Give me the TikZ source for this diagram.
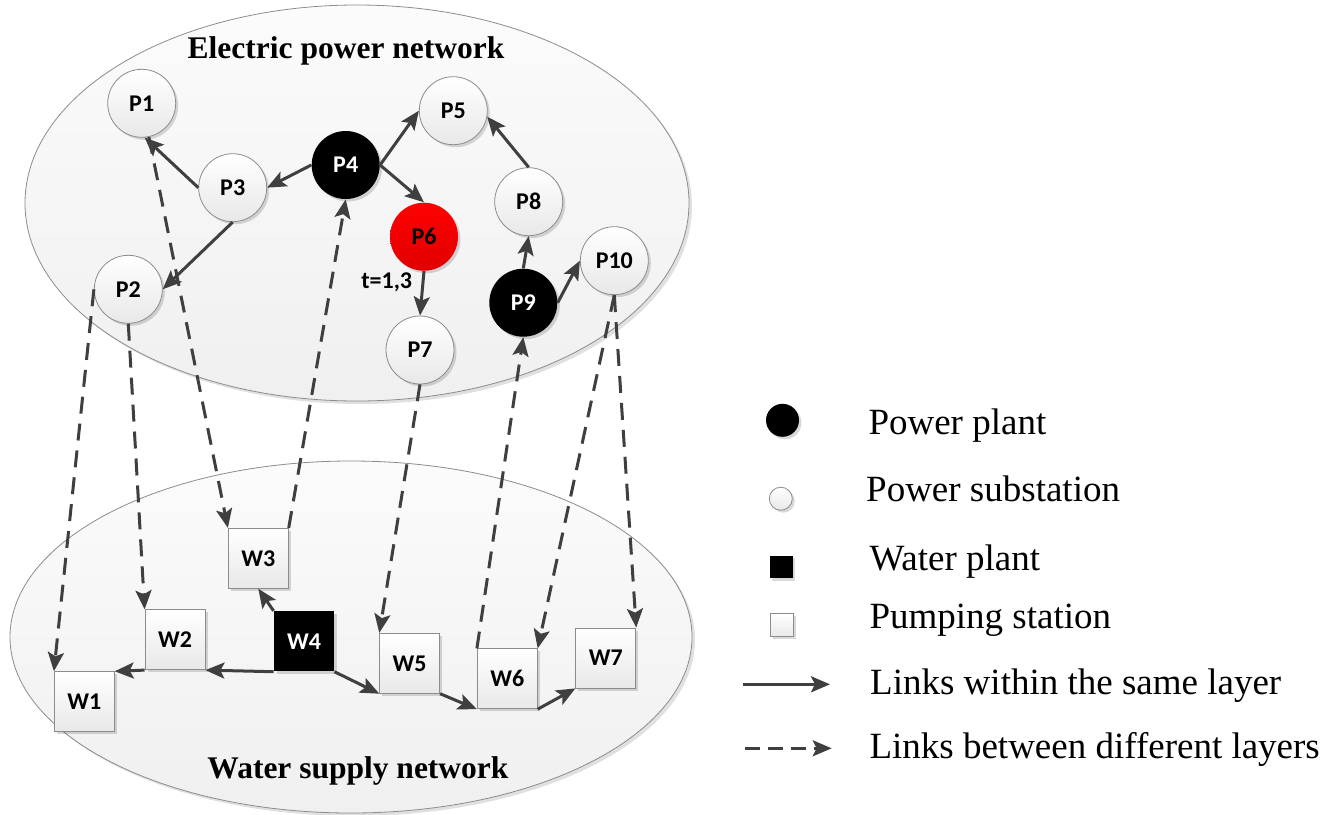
\documentclass[tikz,border=0pt]{standalone}
\usepackage{fontspec}
\setmainfont{Liberation Serif}
\newfontfamily\lblfont{Carlito}
\usetikzlibrary{arrows.meta,shadows}

\definecolor{linkgray}{HTML}{3F3F3F}
\definecolor{rimgray}{HTML}{8C8C8C}

\tikzset{
  shade/.style={drop shadow={shadow xshift=2.5pt,shadow yshift=-2.5pt,fill=black,opacity=0.15}},
  layer/.style={draw=rimgray, line width=0.8pt, top color=white!98.5!black, bottom color=white!94!black,
                drop shadow={shadow xshift=3pt,shadow yshift=-3pt,fill=black,opacity=0.12}},
  nodebase/.style={inner sep=0pt, line width=0.8pt, font=\lblfont\bfseries\fontsize{24}{26}\selectfont, shade},
  substation/.style={nodebase, circle, minimum size=68pt, draw=rimgray, top color=white, bottom color=white!91!black},
  powerplant/.style={nodebase, circle, minimum size=68pt, fill=black, text=white},
  failed/.style={nodebase, circle, minimum size=68pt, top color=red, bottom color=red!88!black},
  pumpbox/.style={nodebase, rectangle, minimum size=60pt, draw=rimgray, top color=white, bottom color=white!91!black},
  waterbox/.style={nodebase, rectangle, minimum size=60pt, fill=black, text=white},
  link/.style={draw=linkgray, line width=3pt, -{Stealth[length=19pt,width=16pt,inset=4pt]}},
  crosslink/.style={link, dash pattern=on 17pt off 10pt},
  title/.style={font=\bfseries\fontsize{31.5}{34}\selectfont, anchor=base},
  legtext/.style={font=\fontsize{37}{40}\selectfont, anchor=base west, inner sep=0pt}
}

\begin{document}
\begin{tikzpicture}[x=1pt,y=-1pt]
\useasboundingbox (0,0) rectangle (1340,814);

% the two network layers
\path[layer] (357,203) ellipse [x radius=332pt, y radius=198pt];
\path[layer] (351,637) ellipse [x radius=341pt, y radius=176pt];

\node[title] (ttop) at (346,58.3) {Electric power network};
\node[title] (tbot) at (358,778.3) {Water supply network};

% power network
\node[substation] (P1) at (141.7,103.3) {P1};
\node[substation] (P2) at (128.3,289.3) {P2};
\node[substation] (P3) at (232.7,187.7) {P3};
\node[powerplant] (P4) at (345.7,165) {P4};
\node[substation] (P5) at (453.3,110.7) {P5};
\node[failed]     (P6) at (424,236.7) {P6};
\node[substation] (P7) at (420,350) {P7};
\node[substation] (P8) at (528.7,201.7) {P8};
\node[powerplant] (P9) at (523.3,302.7) {P9};
\node[substation] (P10) at (614.3,260.7) {P10};
\node[font=\lblfont\bfseries\fontsize{24}{26}\selectfont, anchor=base, inner sep=0pt] (tlab) at (386.7,288) {t=1,3};

% water network
\node[pumpbox]  (W1) at (84.3,701.7) {W1};
\node[pumpbox]  (W2) at (175,639.7) {W2};
\node[pumpbox]  (W3) at (258.3,558.3) {W3};
\node[waterbox] (W4) at (304,641.3) {W4};
\node[pumpbox]  (W5) at (409.7,663.3) {W5};
\node[pumpbox]  (W6) at (507.3,678.8) {W6};
\node[pumpbox]  (W7) at (605.8,658) {W7};

% links inside the power layer
\draw[link] (P3.west) -- (P1.-85);
\draw[link] (P4.west) -- (P3.east);
\draw[link] (P3.south) -- (P2.east);
\draw[link] (P4.east) -- (P5.west);
\draw[link] (P4.east) -- (P6.north);
\draw[link] (P6.south) -- (P7.north);
\draw[link] (P8.north) -- (P5.-10);
\draw[link] (P9.north) -- (P8.south);
\draw[link] (P9.east) -- (P10.west);

% links inside the water layer
\draw[link] (W4.north west) -- (W3.south);
\draw[link] (W4.south west) -- (W2.south east);
\draw[link] (W2.south west) -- (W1.north east);
\draw[link] (W4.south east) -- (W5.south west);
\draw[link] (W5.south east) -- (W6.south west);
\draw[link] (W6.south east) -- (W7.south west);

% links between the layers
\draw[crosslink] (P1.-78) -- (W3.north west);
\draw[crosslink] (W3.north east) -- (P4.south);
\draw[crosslink] (P2.west) -- (W1.north west);
\draw[crosslink] (P2.south) -- (W2.north west);
\draw[crosslink] (P7.south) -- (W5.north west);
\draw[crosslink] (W6.north west) -- (P9.south);
\draw[crosslink] (P10.south) -- (W6.north east);
\draw[crosslink] (P10.south) -- (W7.north east);

% legend
\node[circle, fill=black, minimum size=33pt, inner sep=0pt, shade] (lgpp) at (782.5,420.3) {};
\node[circle, draw=rimgray, line width=0.8pt, top color=white, bottom color=white!91!black, minimum size=23pt, inner sep=0pt, shade] (lgps) at (780.8,498.7) {};
\node[rectangle, fill=black, minimum size=22.7pt, inner sep=0pt, shade] (lgwp) at (781.3,567) {};
\node[rectangle, draw=rimgray, line width=0.8pt, top color=white, bottom color=white!91!black, minimum size=23pt, inner sep=0pt, shade] (lgpu) at (782,625) {};
\coordinate (lgs1) at (742.7,684.3);
\coordinate (lgs2) at (830,684.3);
\coordinate (lgd1) at (745,748.3);
\coordinate (lgd2) at (831.7,748.3);
\draw[link] (lgs1) -- (lgs2);
\draw[crosslink, dash pattern=on 15pt off 8pt] (lgd1) -- (lgd2);

\node[legtext] (ltpp) at (868.3,434) {Power plant};
\node[legtext] (ltps) at (866,501.7) {Power substation};
\node[legtext] (ltwp) at (869.3,570) {Water plant};
\node[legtext] (ltpu) at (869.3,628.3) {Pumping station};
\node[legtext] (ltsl) at (870,694) {Links within the same layer};
\node[legtext] (ltdl) at (869.3,758) {Links between different layers};
\end{tikzpicture}
\end{document}
